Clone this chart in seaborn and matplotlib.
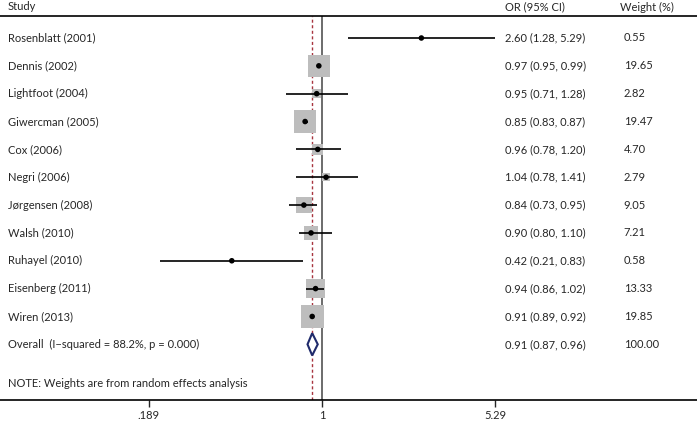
import numpy as np
import matplotlib
matplotlib.use("Agg")
import matplotlib.pyplot as plt
import seaborn as sns
import pandas as pd

# study data
studies = ['Rosenblatt (2001)', 'Dennis (2002)', 'Lightfoot (2004)', 'Giwercman (2005)',
           'Cox (2006)', 'Negri (2006)', 'Jørgensen (2008)', 'Walsh (2010)',
           'Ruhayel (2010)', 'Eisenberg (2011)', 'Wiren (2013)']
odds = [2.60, 0.97, 0.95, 0.85, 0.96, 1.04, 0.84, 0.90, 0.42, 0.94, 0.91]
lower = [1.28, 0.95, 0.71, 0.83, 0.78, 0.78, 0.73, 0.80, 0.21, 0.86, 0.89]
upper = [5.29, 0.99, 1.28, 0.87, 1.20, 1.41, 0.95, 1.10, 0.83, 1.02, 0.92]
weights = [0.55, 19.65, 2.82, 19.47, 4.70, 2.79, 9.05, 7.21, 0.58, 13.33, 19.85]

overall_label = 'Overall  (I\u2212squared = 88.2%, p = 0.000)'
overall = [0.91, 0.87, 0.96]
overall_weight = 100.00
note = 'NOTE: Weights are from random effects analysis'
tick_vals = [0.189, 1, 5.29]
tick_labels = ['.189', '1', '5.29']

df = pd.DataFrame({'study': studies, 'or': odds, 'lo': lower, 'hi': upper, 'w': weights})
df['row'] = np.arange(len(df))

sns.set_style('white')
plt.rcParams['font.family'] = ['Lato', 'DejaVu Sans']

fig = plt.figure(figsize=(6.97, 4.21), dpi=100)
ax = fig.add_axes([0, 21 / 421, 1, (400 - 16) / 421])

ax.set_xscale('log')
xl = np.exp(-322 / 104)
xr = np.exp((697 - 322) / 104)
ax.set_xlim(xl, xr)
ax.set_ylim(13.0, -0.79)

# weight boxes
sns.scatterplot(data=df, x='or', y='row', s=df['w'] * 13.5, marker='s',
                color='#bdbdbd', edgecolor='none', ax=ax, legend=False, zorder=2)
# confidence intervals
ax.hlines(df['row'], df['lo'], df['hi'], color='black', lw=1.2, zorder=3)
sns.scatterplot(data=df, x='or', y='row', s=16, marker='o', color='black',
                edgecolor='none', ax=ax, legend=False, zorder=4)

# reference lines
ax.axvline(1, color='#444444', lw=1.1, zorder=1)
ax.axvline(overall[0], color='#a8343f', lw=1.0, ls=(0, (2.2, 1.8)), zorder=1)

# overall diamond
r = 11
ax.fill([overall[1], overall[0], overall[2], overall[0]],
        [r, r - 0.4, r, r + 0.4], facecolor='white', edgecolor='#1f2a6b', lw=1.5, zorder=5)

# text columns
trans = ax.get_yaxis_transform()
for i, row in df.iterrows():
    ax.text(0.0115, row['row'], row['study'], transform=trans, va='center', fontsize=8)
    ax.text(0.7245, row['row'], f"{row['or']:.2f} ({row['lo']:.2f}, {row['hi']:.2f})",
            transform=trans, va='center', fontsize=8)
    ax.text(0.895, row['row'], f"{row['w']:.2f}", transform=trans, va='center', fontsize=8)
ax.text(0.0115, r, overall_label, transform=trans, va='center', fontsize=8)
ax.text(0.7245, r, f"{overall[0]:.2f} ({overall[1]:.2f}, {overall[2]:.2f})",
        transform=trans, va='center', fontsize=8)
ax.text(0.895, r, f"{overall_weight:.2f}", transform=trans, va='center', fontsize=8)
ax.text(0.0115, 12.42, note, transform=trans, va='center', fontsize=8)

# headers
fig.text(0.0115, 1 - 7 / 421, 'Study', va='center', fontsize=8)
fig.text(0.7245, 1 - 7 / 421, 'OR (95% CI)', va='center', fontsize=8)
fig.text(0.89, 1 - 7 / 421, 'Weight (%)', va='center', fontsize=8)

# axes styling
for side in ['left', 'right']:
    ax.spines[side].set_visible(False)
for side in ['top', 'bottom']:
    ax.spines[side].set_color('black')
    ax.spines[side].set_linewidth(1.2)
ax.set_yticks([])
ax.set_xticks(tick_vals)
ax.set_xticklabels(tick_labels, fontsize=8)
ax.xaxis.set_minor_locator(matplotlib.ticker.NullLocator())
ax.tick_params(axis='x', direction='out', length=5, width=1, bottom=True, pad=2)
ax.set_xlabel('')
ax.set_ylabel('')

fig.savefig('out.png', dpi=100)
